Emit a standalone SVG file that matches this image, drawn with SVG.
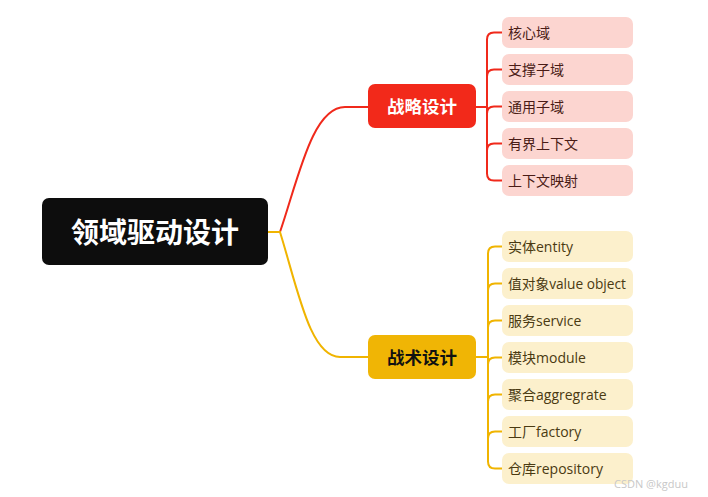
<svg xmlns="http://www.w3.org/2000/svg" width="708" height="497" viewBox="0 0 708 497">
<style>
.t{font-family:"Open Sans","Noto Sans CJK SC",sans-serif;}
.b{font-family:"Noto Sans CJK SC",sans-serif;font-weight:bold;}
.lr{fill:#fcd5d0;}
.ly{fill:#fcf0cc;}
.tr{fill:#4a1c16;font-size:14px;}
.ty{fill:#4a3a12;font-size:14px;}
.cr{stroke:#f0291b;fill:none;stroke-width:2;}
.cy{stroke:#f0b400;fill:none;stroke-width:2;}
</style>
<rect width="708" height="497" fill="#ffffff"/>
<g id="connectors">
<path class="cr" d="M268,232 H280 C298,180 312,107 345,107 H369"/>
<path class="cy" d="M268,232 H280 C298,290 310,357 340,357 H369"/>
<path class="cr" d="M476,107 H487" stroke-width="4"/>
<path class="cy" d="M476,357 H488" stroke-width="4"/>
<path class="cr" d="M502,32.5 H494 Q487,32.5 487,39.5 V173.5 Q487,180.5 494,180.5 H502"/>
<path class="cr" d="M487,76.5 Q487,69.5 494,69.5 H502 M487,113.5 Q487,106.5 494,106.5 H502 M487,150.5 Q487,143.5 494,143.5 H502" stroke-width="1.8"/>
<path class="cy" d="M502,246.5 H495 Q488,246.5 488,253.5 V461.5 Q488,468.5 495,468.5 H502"/>
<path class="cy" d="M488,290.5 Q488,283.5 495,283.5 H502 M488,327.5 Q488,320.5 495,320.5 H502 M488,364.5 Q488,357.5 495,357.5 H502 M488,401.5 Q488,394.5 495,394.5 H502 M488,438.5 Q488,431.5 495,431.5 H502" stroke-width="1.8"/>
</g>
<g id="root">
<rect x="42" y="198" width="226" height="67" rx="7" fill="#0d0d0d"/>
<text class="b" x="155" y="243" font-size="28" fill="#ffffff" text-anchor="middle">领域驱动设计</text>
</g>
<g id="strategy">
<rect x="368" y="84" width="108" height="44" rx="7" fill="#f2291a"/>
<text class="b" x="422" y="112.5" font-size="17.5" fill="#ffffff" text-anchor="middle">战略设计</text>
</g>
<g id="tactics">
<rect x="368" y="335" width="108" height="44" rx="7" fill="#f0b505"/>
<text class="b" x="422" y="363.5" font-size="17.5" fill="#111111" text-anchor="middle">战术设计</text>
</g>
<g id="s1"><rect class="lr" x="502" y="17" width="131" height="31" rx="7"/><text class="t tr" x="508" y="37.5">核心域</text></g>
<g id="s2"><rect class="lr" x="502" y="54" width="131" height="31" rx="7"/><text class="t tr" x="508" y="74.5">支撑子域</text></g>
<g id="s3"><rect class="lr" x="502" y="91" width="131" height="31" rx="7"/><text class="t tr" x="508" y="111.5">通用子域</text></g>
<g id="s4"><rect class="lr" x="502" y="128" width="131" height="31" rx="7"/><text class="t tr" x="508" y="148.5">有界上下文</text></g>
<g id="s5"><rect class="lr" x="502" y="165" width="131" height="31" rx="7"/><text class="t tr" x="508" y="185.5">上下文映射</text></g>
<g id="y1"><rect class="ly" x="502" y="231" width="131" height="31" rx="7"/><text class="t ty" x="508" y="251.5">实体entity</text></g>
<g id="y2"><rect class="ly" x="502" y="268" width="131" height="31" rx="7"/><text class="t ty" x="508" y="288.5" textLength="118" lengthAdjust="spacingAndGlyphs">值对象value object</text></g>
<g id="y3"><rect class="ly" x="502" y="305" width="131" height="31" rx="7"/><text class="t ty" x="508" y="325.5">服务service</text></g>
<g id="y4"><rect class="ly" x="502" y="342" width="131" height="31" rx="7"/><text class="t ty" x="508" y="362.5">模块module</text></g>
<g id="y5"><rect class="ly" x="502" y="379" width="131" height="31" rx="7"/><text class="t ty" x="508" y="399.5">聚合aggregrate</text></g>
<g id="y6"><rect class="ly" x="502" y="416" width="131" height="31" rx="7"/><text class="t ty" x="508" y="436.5">工厂factory</text></g>
<g id="y7"><rect class="ly" x="502" y="453" width="131" height="31" rx="7"/><text class="t ty" x="508" y="473.5">仓库repository</text></g>
<text class="t" x="614" y="488" font-size="11" fill="#c8c8c8">CSDN @kgduu</text>
</svg>
